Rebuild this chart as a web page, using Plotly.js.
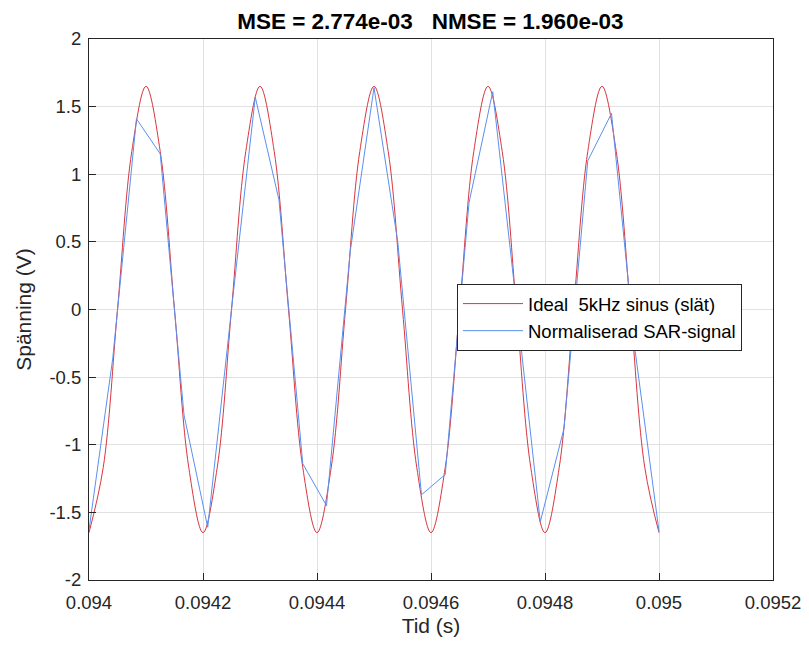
<!DOCTYPE html>
<html>
<head>
<meta charset="utf-8">
<script src="https://cdn.plot.ly/plotly-3.0.1.min.js"></script>
<style>html,body{margin:0;padding:0;background:#fff;}#chart{width:809px;height:648px;}</style>
</head>
<body>
<div id="chart"></div>
<script>
// Ideal 5 kHz sine (read at 1/8-period points)
const idealTime = [0.094, 0.094025, 0.09405, 0.094075, 0.0941, 0.094125, 0.09415, 0.094175,
  0.0942, 0.094225, 0.09425, 0.094275, 0.0943, 0.094325, 0.09435, 0.094375,
  0.0944, 0.094425, 0.09445, 0.094475, 0.0945, 0.094525, 0.09455, 0.094575,
  0.0946, 0.094625, 0.09465, 0.094675, 0.0947, 0.094725, 0.09475, 0.094775,
  0.0948, 0.094825, 0.09485, 0.094875, 0.0949, 0.094925, 0.09495, 0.094975, 0.095];
const idealVolt = [-1.65, -1.167, 0, 1.167, 1.65, 1.167, 0, -1.167,
  -1.65, -1.167, 0, 1.167, 1.65, 1.167, 0, -1.167,
  -1.65, -1.167, 0, 1.167, 1.65, 1.167, 0, -1.167,
  -1.65, -1.167, 0, 1.167, 1.65, 1.167, 0, -1.167,
  -1.65, -1.167, 0, 1.167, 1.65, 1.167, 0, -1.167, -1.65];

// Normalised SAR samples
const sarTime = [0.094, 0.0940417, 0.0940833, 0.094125, 0.0941667, 0.0942083, 0.09425, 0.0942917,
  0.0943333, 0.094375, 0.0944167, 0.0944583, 0.0945, 0.0945417, 0.0945833, 0.094625,
  0.0946667, 0.0947083, 0.09475, 0.0947917, 0.0948333, 0.094875, 0.0949167, 0.0949583, 0.095];
const sarVolt = [-1.63, -0.36, 1.41, 1.15, -0.78, -1.61, 0.0, 1.57,
  0.81, -1.14, -1.45, 0.43, 1.64, 0.50, -1.37, -1.22,
  0.79, 1.61, 0.03, -1.57, -0.88, 1.10, 1.45, -0.31, -1.64];

const xTickVals = [0.094, 0.0942, 0.0944, 0.0946, 0.0948, 0.095, 0.0952];
const xTickText = ['0.094', '0.0942', '0.0944', '0.0946', '0.0948', '0.095', '0.0952'];
const yTickVals = [-2, -1.5, -1, -0.5, 0, 0.5, 1, 1.5, 2];
const yTickText = ['-2', '-1.5', '-1', '-0.5', '0', '0.5', '1', '1.5', '2'];

const seriesNames = ['Ideal\u00a0 5kHz sinus (slät)', 'Normaliserad SAR-signal'];
const titleText = 'MSE = 2.774e-03\u00a0\u00a0 NMSE = 1.960e-03';

const FONT = 'Liberation Sans, Arial, Helvetica, sans-serif';
const AX = '#262626';

const traces = [
  {x: idealTime, y: idealVolt, type: 'scatter', mode: 'lines', name: seriesNames[0],
   line: {color: '#d9363e', width: 1, shape: 'spline', smoothing: 1}},
  {x: sarTime, y: sarVolt, type: 'scatter', mode: 'lines', name: seriesNames[1],
   line: {color: '#5b8ff0', width: 1}}
];

const axisCommon = {
  showgrid: true, gridcolor: '#e1e1e1', gridwidth: 1,
  zeroline: false, showline: true, linecolor: AX, linewidth: 1, mirror: true,
  ticks: 'inside', ticklen: 7, tickcolor: AX, tickwidth: 1,
  tickfont: {family: FONT, size: 18.5, color: AX}
};

const layout = {
  width: 809, height: 648,
  margin: {l: 89, r: 36, t: 39, b: 68},
  paper_bgcolor: '#ffffff', plot_bgcolor: '#ffffff',
  title: {text: titleText, font: {family: FONT, size: 22.5, color: '#000', weight: 'bold'},
          x: 0.532, xanchor: 'center', y: 0.968, yanchor: 'middle'},
  xaxis: Object.assign({}, axisCommon, {
    range: [0.094, 0.0952], tickvals: xTickVals, ticktext: xTickText,
    ticklabelstandoff: 6,
    title: {text: 'Tid (s)', font: {family: FONT, size: 21, color: AX}, standoff: 6}
  }),
  yaxis: Object.assign({}, axisCommon, {
    range: [-2, 2], tickvals: yTickVals, ticktext: yTickText,
    ticklabelstandoff: 3,
    title: {text: 'Spänning (V)', font: {family: FONT, size: 21, color: AX}, standoff: 12}
  }),
  showlegend: true,
  legend: {x: 0.538, y: 0.547, xanchor: 'left', yanchor: 'top',
    bgcolor: '#ffffff', bordercolor: AX, borderwidth: 1,
    font: {family: FONT, size: 18.5, color: '#000'}, itemwidth: 60,
    tracegroupgap: 0}
};

Plotly.newPlot('chart', traces, layout, {displayModeBar: false, staticPlot: true});
</script>
</body>
</html>
